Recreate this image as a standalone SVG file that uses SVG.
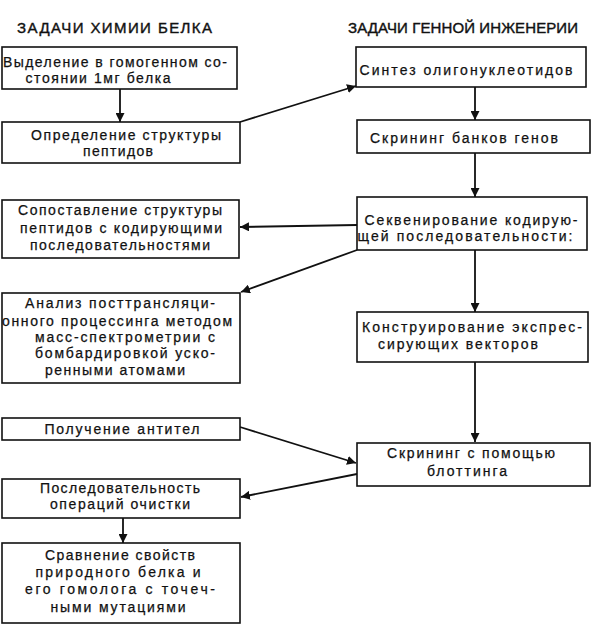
<svg xmlns="http://www.w3.org/2000/svg" width="592" height="628" viewBox="0 0 592 628">
<style>
.box{fill:#fff;stroke:#111;stroke-width:1.6}
.t{font-family:"Liberation Sans",Arial,sans-serif;font-size:14px;fill:#111;stroke:#111;stroke-width:0.25;text-anchor:middle}
.h{font-family:"Liberation Sans",Arial,sans-serif;font-size:15px;fill:#111;stroke:#111;stroke-width:0.4}
.c{stroke:#111;stroke-width:1.8;fill:none;marker-end:url(#ah)}
</style>
<defs>
<marker id="ah" viewBox="0 0 10 10" refX="10" refY="5" markerWidth="5" markerHeight="5" orient="auto" markerUnits="strokeWidth">
<path d="M0,0 L10,5 L0,10 z" fill="#111"/>
</marker>
</defs>
<rect width="592" height="628" fill="#fff"/>
<text class="h" x="17" y="33" textLength="195" lengthAdjust="spacing">ЗАДАЧИ ХИМИИ БЕЛКА</text>
<text class="h" x="348" y="33" textLength="230" lengthAdjust="spacing">ЗАДАЧИ ГЕННОЙ ИНЖЕНЕРИИ</text>

<g id="connectors">
<line class="c" x1="120" y1="89" x2="120" y2="122"/>
<line class="c" x1="240" y1="122" x2="356" y2="86"/>
<line class="c" x1="475" y1="87" x2="475" y2="120"/>
<line class="c" x1="475" y1="153" x2="475" y2="197"/>
<line class="c" x1="357" y1="225" x2="240" y2="227"/>
<line class="c" x1="357" y1="250" x2="241" y2="292"/>
<line class="c" x1="475" y1="250" x2="475" y2="312"/>
<line class="c" x1="475" y1="362" x2="475" y2="442"/>
<line class="c" x1="240" y1="427" x2="356" y2="463"/>
<line class="c" x1="357" y1="474" x2="241" y2="497"/>
<line class="c" x1="123" y1="518" x2="123" y2="543"/>
</g>

<g id="n1"><rect class="box" x="2" y="47" width="235" height="42"/>
<text class="t" x="115" y="67" textLength="224" lengthAdjust="spacing">Выделение в гомогенном со-</text>
<text class="t" x="98" y="83" textLength="145" lengthAdjust="spacing">стоянии 1мг белка</text></g>

<g id="n2"><rect class="box" x="2" y="122" width="238" height="41"/>
<text class="t" x="126" y="140" textLength="190" lengthAdjust="spacing">Определение структуры</text>
<text class="t" x="118" y="156" textLength="70" lengthAdjust="spacing">пептидов</text></g>

<g id="n3"><rect class="box" x="2" y="200" width="237" height="58"/>
<text class="t" x="120" y="215" textLength="204" lengthAdjust="spacing">Сопоставление структуры</text>
<text class="t" x="121" y="233" textLength="202" lengthAdjust="spacing">пептидов с кодирующими</text>
<text class="t" x="120" y="250" textLength="180" lengthAdjust="spacing">последовательностями</text></g>

<g id="n4"><rect class="box" x="2" y="293" width="238" height="90"/>
<text class="t" x="120" y="308" textLength="190" lengthAdjust="spacing">Анализ посттрансляци-</text>
<text class="t" x="117" y="326" textLength="230" lengthAdjust="spacing">онного процессинга методом</text>
<text class="t" x="125" y="342" textLength="180" lengthAdjust="spacing">масс-спектрометрии с</text>
<text class="t" x="125" y="358" textLength="180" lengthAdjust="spacing">бомбардировкой уско-</text>
<text class="t" x="115" y="375" textLength="140" lengthAdjust="spacing">ренными атомами</text></g>

<g id="n5"><rect class="box" x="2" y="418" width="238" height="22"/>
<text class="t" x="122" y="434" textLength="155" lengthAdjust="spacing">Получение антител</text></g>

<g id="n6"><rect class="box" x="2" y="479" width="238" height="39"/>
<text class="t" x="120" y="493" textLength="160" lengthAdjust="spacing">Последовательность</text>
<text class="t" x="120" y="509" textLength="140" lengthAdjust="spacing">операций очистки</text></g>

<g id="n7"><rect class="box" x="2" y="543" width="238" height="80"/>
<text class="t" x="120" y="560" textLength="150" lengthAdjust="spacing">Сравнение свойств</text>
<text class="t" x="118" y="577" textLength="165" lengthAdjust="spacing">природного белка и</text>
<text class="t" x="120" y="594" textLength="190" lengthAdjust="spacing">его гомолога с точеч-</text>
<text class="t" x="118" y="612" textLength="135" lengthAdjust="spacing">ными мутациями</text></g>

<g id="r1"><rect class="box" x="356" y="47" width="230" height="40"/>
<text class="t" x="466" y="75" textLength="213" lengthAdjust="spacing">Синтез олигонуклеотидов</text></g>

<g id="r2"><rect class="box" x="357" y="120" width="233" height="33"/>
<text class="t" x="464" y="143" textLength="188" lengthAdjust="spacing">Скрининг банков генов</text></g>

<g id="r3"><rect class="box" x="357" y="197" width="230" height="53"/>
<text class="t" x="471" y="225" textLength="213" lengthAdjust="spacing">Секвенирование кодирую-</text>
<text class="t" x="465" y="241" textLength="215" lengthAdjust="spacing">щей последовательности:</text></g>

<g id="r4"><rect class="box" x="357" y="312" width="231" height="50"/>
<text class="t" x="472" y="332" textLength="220" lengthAdjust="spacing">Конструирование экспрес-</text>
<text class="t" x="458" y="349" textLength="160" lengthAdjust="spacing">сирующих векторов</text></g>

<g id="r5"><rect class="box" x="357" y="443" width="233" height="43"/>
<text class="t" x="471" y="458" textLength="168" lengthAdjust="spacing">Скрининг с помощью</text>
<text class="t" x="467" y="476" textLength="80" lengthAdjust="spacing">блоттинга</text></g>
</svg>
